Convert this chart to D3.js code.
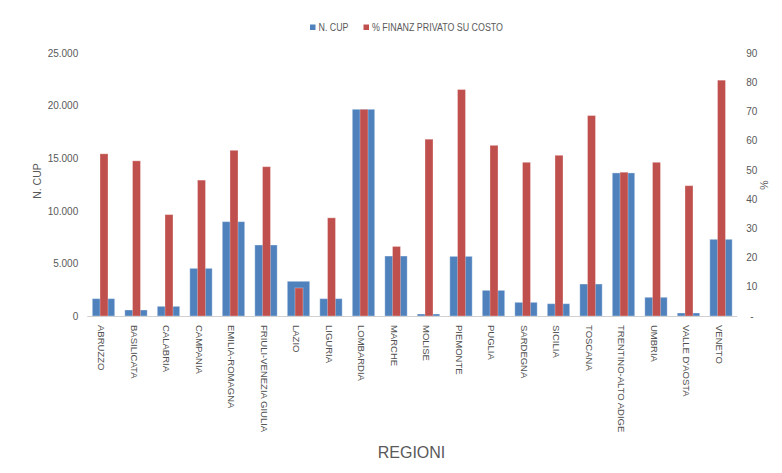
<!DOCTYPE html>
<html><head><meta charset="utf-8">
<script src="https://cdn.jsdelivr.net/npm/d3@7"></script>
<style>body{margin:0;background:#fff}svg{display:block}</style>
</head><body><svg id="c" width="782" height="473"></svg>
<script>
const regions = ["ABRUZZO","BASILICATA","CALABRIA","CAMPANIA","EMILIA-ROMAGNA","FRIULI-VENEZIA GIULIA","LAZIO","LIGURIA","LOMBARDIA","MARCHE","MOLISE","PIEMONTE","PUGLIA","SARDEGNA","SICILIA","TOSCANA","TRENTINO-ALTO ADIGE","UMBRIA","VALLE D'AOSTA","VENETO"];
const nCup = [1650,570,920,4530,8970,6750,3300,1650,19650,5700,190,5670,2440,1300,1170,3040,13600,1780,285,7290];
const pctPrivato = [55.5,53.1,34.7,46.5,56.7,51.1,9.6,33.6,70.7,23.8,60.5,77.5,58.4,52.6,55.0,68.6,49.2,52.6,44.6,80.7];
const leftTicks = [0,5000,10000,15000,20000,25000];
const rightTicks = [0,10,20,30,40,50,60,70,80,90];
const seriesNames = ["N. CUP","% FINANZ PRIVATO SU COSTO"];

const svg = d3.select("#c");
const m = {left:87.25, right:737.25, top:53, bottom:316};
const blue = "#4F81BD", red = "#C0504D", txt = "#595959";
const font = "'Liberation Sans',Arial,sans-serif";

const x = d3.scaleBand().domain(regions).range([m.left, m.right]).paddingInner(0).paddingOuter(0);
const yL = d3.scaleLinear().domain([0,25000]).range([m.bottom, m.top]);
const yR = d3.scaleLinear().domain([0,90]).range([m.bottom, m.top]);
const bw = 22.4, rw = 8;

// blue bars
svg.append("g").selectAll("rect").data(regions).join("rect")
  .attr("x", d => x(d) + x.bandwidth()/2 - bw/2)
  .attr("width", bw)
  .attr("y", (d,i) => yL(nCup[i]))
  .attr("height", (d,i) => m.bottom - yL(nCup[i]))
  .attr("fill", blue).attr("stroke","#fff").attr("stroke-opacity",0.35).attr("stroke-width",1);
// red bars
svg.append("g").selectAll("rect").data(regions).join("rect")
  .attr("x", d => x(d) + x.bandwidth()/2 - rw/2 + 0.5)
  .attr("width", rw)
  .attr("y", (d,i) => yR(pctPrivato[i]))
  .attr("height", (d,i) => m.bottom - yR(pctPrivato[i]))
  .attr("fill", red).attr("stroke","#fff").attr("stroke-opacity",0.3).attr("stroke-width",1);

// baseline
svg.append("line").attr("x1",m.left).attr("x2",m.right).attr("y1",m.bottom+0.5).attr("y2",m.bottom+0.5)
  .attr("stroke","#D0D0D0").attr("stroke-width",1);

const fmtL = d => d === 0 ? "0" : d3.format(",")(d).replace(/,/g,".");
const axL = svg.append("g").attr("transform",`translate(${m.left},0)`)
  .call(d3.axisLeft(yL).tickValues(leftTicks).tickFormat(fmtL).tickSize(0).tickPadding(9));
axL.select(".domain").remove();
axL.selectAll("text").attr("fill",txt).style("font-family",font).style("font-size","10px");

const axR = svg.append("g").attr("transform",`translate(${m.right},0)`)
  .call(d3.axisRight(yR).tickValues(rightTicks).tickFormat(d => d === 0 ? "-" : d).tickSize(0).tickPadding(9));
axR.select(".domain").remove();
axR.selectAll("text").attr("fill",txt).style("font-family",font).style("font-size","10px")
  .attr("dx", d => d === 0 ? 4 : 0);

// x labels
const axB = svg.append("g").attr("transform",`translate(0,${m.bottom})`)
  .call(d3.axisBottom(x).tickSize(0).tickPadding(0));
axB.select(".domain").remove();
axB.selectAll("text")
  .attr("transform","rotate(90)")
  .attr("x", 9).attr("y", 0).attr("dy","0.35em")
  .attr("text-anchor","start")
  .attr("fill","#505050").style("font-family",font).style("font-size","9.5px");
axB.selectAll(".tick").attr("transform", d => `translate(${x(d)+x.bandwidth()/2 - 2},0)`);

// axis titles
svg.append("text").attr("transform","translate(41,181) rotate(-90)").attr("text-anchor","middle")
  .attr("fill",txt).style("font-family",font).style("font-size","10.5px").text("N. CUP");
svg.append("text").attr("transform","translate(768,185) rotate(-90)").attr("text-anchor","middle")
  .attr("fill",txt).style("font-family",font).style("font-size","10.5px").text("%");
svg.append("text").attr("x",411.5).attr("y",458).attr("text-anchor","middle")
  .attr("fill",txt).style("font-family",font).style("font-size","16px").text("REGIONI");

// legend
const leg = [{x:310, c:blue, t:seriesNames[0], w:30},{x:363.5, c:red, t:seriesNames[1], w:131}];
const lg = svg.append("g");
leg.forEach(l => {
  lg.append("rect").attr("x",l.x).attr("y",24.5).attr("width",5.5).attr("height",5.5).attr("fill",l.c);
  lg.append("text").attr("x",l.x+8.5).attr("y",31).attr("fill",txt)
    .attr("textLength", l.w).attr("lengthAdjust","spacingAndGlyphs")
    .style("font-family",font).style("font-size","10px").text(l.t);
});
</script></body></html>
